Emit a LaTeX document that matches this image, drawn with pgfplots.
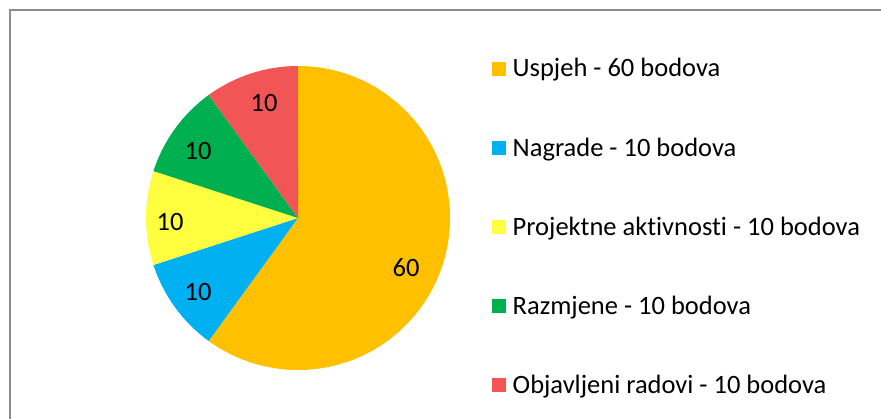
\documentclass[border=0pt]{standalone}
\usepackage{pgfplots}
\pgfplotsset{compat=1.18}
\usepackage{pgfplotstable}
\usepackage{fontspec}
\setmainfont{Carlito}[Ligatures={NoCommon}]
\definecolor{cOrange}{HTML}{FFC000}
\definecolor{cBlue}{HTML}{00B0F0}
\definecolor{cYellow}{HTML}{FFFF40}
\definecolor{cGreen}{HTML}{00B050}
\definecolor{cRed}{HTML}{F25555}
\definecolor{frameGray}{HTML}{8C8C8C}
\pgfplotstableread[col sep=comma,row sep=\\]{
name,value,col,lx,ly\\
Uspjeh - 60 bodova,60,cOrange,406,268\\
Nagrade - 10 bodova,10,cBlue,198,292\\
Projektne aktivnosti - 10 bodova,10,cYellow,170,222\\
Razmjene - 10 bodova,10,cGreen,198,151\\
Objavljeni radovi - 10 bodova,10,cRed,264,103\\
}\piedata
\begin{document}
\begin{tikzpicture}
\useasboundingbox (0,0) rectangle (881bp,419bp);
\clip (0,0) rectangle (881bp,419bp);
\begin{axis}[at={(0,0)}, anchor=south west, width=881bp, height=419bp,
  scale only axis, xmin=0, xmax=881, ymin=0, ymax=419, y dir=reverse,
  hide axis, clip=false]
\pgfplotsextra{
  \draw[line width=1.5bp, draw=frameGray] (axis cs:10,450) -- (axis cs:10,10) -- (axis cs:900,10);
  \pgfplotstablegetrowsof{\piedata}
  \pgfmathtruncatemacro\nrows{\pgfplotsretval-1}
  \gdef\total{0}
  \foreach \i in {0,...,\nrows}{
    \pgfplotstablegetelem{\i}{value}\of\piedata
    \pgfmathsetmacro\newtot{\total+\pgfplotsretval}
    \xdef\total{\newtot}
  }
  \gdef\cum{0}
  \foreach \i in {0,...,\nrows}{
    \pgfplotstablegetelem{\i}{value}\of\piedata \let\sv\pgfplotsretval
    \pgfplotstablegetelem{\i}{col}\of\piedata \let\scol\pgfplotsretval
    \pgfplotstablegetelem{\i}{name}\of\piedata \let\sname\pgfplotsretval
    \pgfplotstablegetelem{\i}{lx}\of\piedata \let\slx\pgfplotsretval
    \pgfplotstablegetelem{\i}{ly}\of\piedata \let\sly\pgfplotsretval
    \pgfmathsetmacro\sa{90-\cum/\total*360}
    \pgfmathsetmacro\ea{\sa-\sv/\total*360}
    \fill[\scol] (axis cs:298,218) -- ++(\sa:152bp) arc[start angle=\sa, end angle=\ea, radius=152bp] -- cycle;
    \node[inner sep=0pt, font=\fontsize{26.5bp}{30bp}\selectfont] at (axis cs:\slx,\sly) {\sv};
    \pgfmathsetmacro\newcum{\cum+\sv}
    \xdef\cum{\newcum}
    \pgfmathsetmacro\qt{62+79*\i}
    \pgfmathsetmacro\qb{76+79*\i}
    \pgfmathsetmacro\bl{77+79*\i}
    \fill[\scol] (axis cs:492,\qt) rectangle (axis cs:506,\qb);
    \node[inner sep=0pt, anchor=base west, font=\fontsize{26.5bp}{30bp}\selectfont] at (axis cs:512.5,\bl) {\sname};
  }
}
\end{axis}
\end{tikzpicture}
\end{document}
